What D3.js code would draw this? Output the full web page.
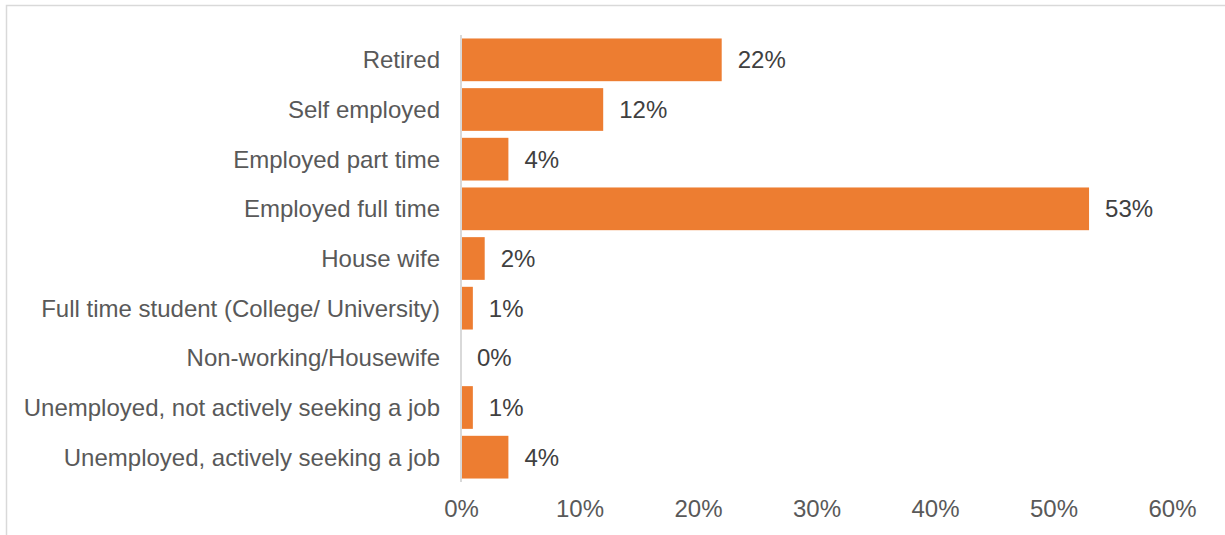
<!DOCTYPE html>
<html>
<head>
<meta charset="utf-8">
<script src="https://cdn.jsdelivr.net/npm/d3@7"></script>
<style>
  html, body { margin: 0; padding: 0; background: #fff; }
  svg { display: block; }
  text { font-family: "Liberation Sans", Arial, sans-serif; }
</style>
</head>
<body>
<div id="chart"></div>
<script>
// Employment status of respondents (share of total)
const categories = [
  "Retired",
  "Self employed",
  "Employed part time",
  "Employed full time",
  "House wife",
  "Full time student (College/ University)",
  "Non-working/Housewife",
  "Unemployed, not actively seeking a job",
  "Unemployed, actively seeking a job"
];
const values = [0.22, 0.12, 0.04, 0.53, 0.02, 0.01, 0.00, 0.01, 0.04];
const tickValues = [0, 0.1, 0.2, 0.3, 0.4, 0.5, 0.6];

const W = 1225, H = 535;
const FS = 24;
const svg = d3.select("#chart").append("svg")
  .attr("width", W).attr("height", H);

// outer chart frame
svg.append("rect")
  .attr("x", 6.5).attr("y", 5.5)
  .attr("width", 1240).attr("height", 560)
  .attr("fill", "none").attr("stroke", "#d9d9d9").attr("stroke-width", 1.5);

const x = d3.scaleLinear().domain([0, 0.6]).range([461, 1172]);
const y = d3.scaleBand().domain(categories).range([35, 482])
  .paddingInner(0.14).paddingOuter(0.07);

const data = categories.map((c, i) => ({ cat: c, val: values[i] }));

// bars
svg.append("g").selectAll("rect").data(data).join("rect")
  .attr("x", x(0))
  .attr("y", d => y(d.cat))
  .attr("width", d => x(d.val) - x(0))
  .attr("height", y.bandwidth())
  .attr("fill", "#ED7D31");

// vertical category axis line
svg.append("line")
  .attr("x1", x(0)).attr("x2", x(0))
  .attr("y1", 35).attr("y2", 482)
  .attr("stroke", "#d9d9d9").attr("stroke-width", 2);

// category labels
svg.append("g").selectAll("text").data(data).join("text")
  .attr("x", 440)
  .attr("y", d => y(d.cat) + y.bandwidth() / 2)
  .attr("dy", "0.35em")
  .attr("text-anchor", "end")
  .attr("font-size", FS)
  .attr("fill", "#595959")
  .text(d => d.cat);

// value labels
svg.append("g").selectAll("text").data(data).join("text")
  .attr("x", d => x(d.val) + 16)
  .attr("y", d => y(d.cat) + y.bandwidth() / 2)
  .attr("dy", "0.35em")
  .attr("font-size", FS)
  .attr("fill", "#404040")
  .text(d => d3.format(".0%")(d.val));

// value axis
const xAxis = d3.axisBottom(x).tickValues(tickValues)
  .tickFormat(d3.format(".0%")).tickSize(0).tickPadding(0);
const gx = svg.append("g").attr("transform", "translate(0,509)").call(xAxis);
gx.select(".domain").remove();
gx.selectAll("text")
  .attr("font-size", FS)
  .attr("fill", "#595959")
  .attr("font-family", "Liberation Sans, Arial, sans-serif")
  .attr("y", 0)
  .attr("dy", "0.35em");
</script>
</body>
</html>
